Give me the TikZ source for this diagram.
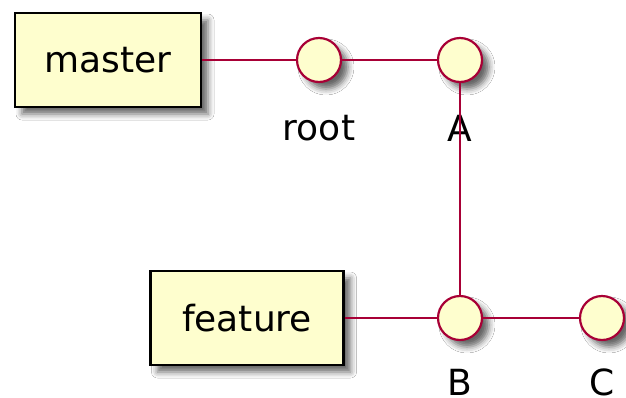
\documentclass[tikz,border=0pt]{standalone}
\usepackage{fontspec}
\setmainfont{DejaVu Sans}
\usetikzlibrary{shadows.blur}

\definecolor{nodefill}{HTML}{FEFECE}
\definecolor{linkred}{HTML}{A80036}

\begin{document}
\begin{tikzpicture}[x=1pt, y=1pt, node distance=141pt,
  font=\fontsize{36}{43}\selectfont,
  branch/.style={rectangle, draw=black, line width=2.2pt, fill=nodefill, inner sep=0pt,
    blur shadow={shadow xshift=7pt, shadow yshift=-7pt, shadow blur radius=6pt, shadow opacity=60}},
  commit/.style={circle, draw=linkred, line width=2.2pt, fill=nodefill, inner sep=0pt, minimum size=44pt,
    blur shadow={shadow xshift=7pt, shadow yshift=-7pt, shadow blur radius=6pt, shadow opacity=60}},
  link/.style={draw=linkred, line width=1.5pt}]
  {
  \useasboundingbox[fill=white] (0,0) rectangle (626,-397);
  \node[branch, minimum width=186pt, minimum height=94pt] (master) at (108,-60) {master};
  \node[commit, right of=master, node distance=211pt] (root) {};
  \node[commit, right of=root] (A) {};
  \node[commit, below of=A, node distance=258pt] (B) {};
  \node[commit, right of=B, node distance=142pt] (C) {};
  \node[branch, left of=B, node distance=213pt, minimum width=193pt, minimum height=94pt] (feature) {feature};

  % commit names under the circles
  \node[below of=root, node distance=68pt] (rootlbl) {root};
  \node[below of=A, node distance=68pt] (Albl) {A};
  \node[below of=B, node distance=64pt] (Blbl) {B};
  \node[below of=C, node distance=64pt] (Clbl) {C};

  \draw[link] (master) -- (root);
  \draw[link] (root) -- (A);
  \draw[link] (A) -- (B);
  \draw[link] (feature) -- (B);
  \draw[link] (B) -- (C);
}
\end{tikzpicture}
\end{document}
